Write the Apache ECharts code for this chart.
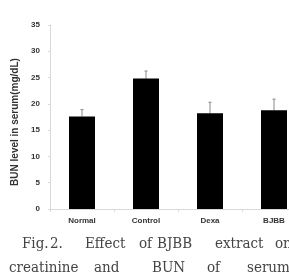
<!DOCTYPE html>
<html><head><meta charset="utf-8">
<script src="https://cdn.jsdelivr.net/npm/echarts@6/dist/echarts.min.js"></script>
<style>html,body{margin:0;padding:0;background:#fff}#c{width:289px;height:279px}</style>
</head><body><div id="c"></div>
<script>
const categories = ['Normal', 'Control', 'Dexa', 'BJBB'];
const means = [17.6, 24.8, 18.2, 18.8];
const errors = [1.3, 1.45, 2.1, 2.1];
const yTicks = [0, 5, 10, 15, 20, 25, 30, 35];
const captionLine1 = ['Fig.', '2.', 'Effect', 'of', 'BJBB', 'extract', 'on'];
const captionLine2 = ['creatinine', 'and', 'BUN', 'of', 'serum'];

const cap1X = [22, 50, 85, 139, 157, 215, 275];
const cap2X = [9, 94, 152, 207, 247];
const capFont = '15px "DejaVu Serif Condensed", "Liberation Serif", serif';
const graphics = [];
captionLine1.forEach((w, i) => graphics.push({type: 'text', x: cap1X[i], y: 237, style: {text: w, font: capFont, fill: '#444', textVerticalAlign: 'top'}}));
captionLine2.forEach((w, i) => graphics.push({type: 'text', x: cap2X[i], y: 261, style: {text: w, font: capFont, fill: '#444', textVerticalAlign: 'top'}}));

const chart = echarts.init(document.getElementById('c'), null, {renderer: 'canvas'});
chart.setOption({
  animation: false,
  grid: {left: 50, top: 25, width: 256, height: 184, containLabel: false, outerBoundsMode: 'none'},
  xAxis: {
    type: 'category', data: categories, boundaryGap: true,
    axisLine: {lineStyle: {color: '#d9d9d9', width: 1}},
    axisTick: {show: true, length: 3, lineStyle: {color: '#d9d9d9'}},
    axisLabel: {color: '#333', fontSize: 8, fontWeight: 'bold', fontFamily: 'Liberation Sans', margin: 8}
  },
  yAxis: {
    type: 'value', min: yTicks[0], max: yTicks[yTicks.length - 1], interval: 5,
    name: 'BUN level in serum(mg/dL)', nameLocation: 'middle', nameGap: 28,
    nameTextStyle: {color: '#333', fontSize: 10, fontWeight: 'bold', fontFamily: 'Liberation Sans', padding: [0, 10, 0, 0]},
    axisLine: {show: true, lineStyle: {color: '#d9d9d9'}},
    axisTick: {show: true, length: 2, lineStyle: {color: '#d9d9d9'}},
    splitLine: {show: false},
    axisLabel: {color: '#333', fontSize: 8, fontWeight: 'bold', fontFamily: 'Liberation Sans', margin: 10}
  },
  series: [
    {type: 'bar', data: means, barWidth: 26, itemStyle: {color: '#000'}, z: 2},
    {
      type: 'custom', z: 1,
      data: means.map((m, i) => [i, m, m + errors[i]]),
      renderItem: function (params, api) {
        const p0 = api.coord([api.value(0), api.value(1)]);
        const p1 = api.coord([api.value(0), api.value(2)]);
        const st = {stroke: '#888', lineWidth: 1};
        return {type: 'group', children: [
          {type: 'line', shape: {x1: p0[0], y1: p0[1], x2: p1[0], y2: p1[1]}, style: st},
          {type: 'line', shape: {x1: p1[0] - 1.5, y1: p1[1], x2: p1[0] + 1.5, y2: p1[1]}, style: st}
        ]};
      }
    }
  ],
  graphic: graphics
});
</script></body></html>
